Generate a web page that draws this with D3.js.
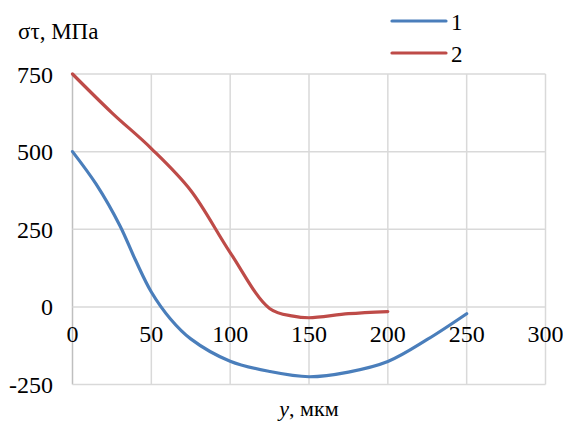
<!DOCTYPE html>
<html><head><meta charset="utf-8">
<script src="https://cdn.jsdelivr.net/npm/d3@7"></script>
<style>body{margin:0;background:#fff}</style>
</head><body><svg id="c" width="563" height="421"></svg>
<script>
const xTicks = [0, 50, 100, 150, 200, 250, 300];
const yTicks = [-250, 0, 250, 500, 750];
const seriesNames = ["1", "2"];
const s1x = [0, 15, 30, 40, 50, 62, 75, 100, 125, 150, 175, 200, 225, 250];
const s1y = [500, 395, 262, 150, 48, -38, -103, -175, -208, -225, -210, -176, -105, -22];
const s2x = [0, 25, 50, 75, 100, 125, 140, 150, 175, 200];
const s2y = [750, 625, 510, 375, 175, -5, -30, -35, -22, -15];
const colors = ["#4a7ebb", "#be4b48"];
const yTitle = "στ, МПа";
const xTitleItalic = "y";
const xTitleRest = ", мкм";
const FONT = "'Liberation Serif', Tinos, 'Times New Roman', serif";

const svg = d3.select("#c");
const x = d3.scaleLinear().domain([0, 300]).range([72.5, 545.5]);
const y = d3.scaleLinear().domain([-250, 750]).range([384.5, 74]);

function serif(sel) {
  return sel.attr("font-family", FONT).style("font-family", FONT, "important");
}

const g = svg.append("g");
g.selectAll(".vg").data(xTicks).join("line")
  .attr("x1", d => x(d)).attr("x2", d => x(d))
  .attr("y1", y(750)).attr("y2", y(-250))
  .attr("stroke", d => d === 0 ? "#bfbfbf" : "#d9d9d9").attr("stroke-width", 1.5);
g.selectAll(".hg").data(yTicks).join("line")
  .attr("x1", x(0)).attr("x2", x(300))
  .attr("y1", d => y(d)).attr("y2", d => y(d))
  .attr("stroke", "#d9d9d9").attr("stroke-width", 1.5);

serif(g.selectAll(".yl").data(yTicks).join("text"))
  .attr("x", 53).attr("y", d => y(d) + 8.5)
  .attr("text-anchor", "end").attr("font-size", 24).text(d => d);
serif(g.selectAll(".xl").data(xTicks).join("text"))
  .attr("x", d => x(d)).attr("y", y(0) + 35)
  .attr("text-anchor", "middle").attr("font-size", 24).text(d => d);

const line = d3.line().x(d => x(d[0])).y(d => y(d[1])).curve(d3.curveCatmullRom.alpha(0.5));
const data = [d3.zip(s1x, s1y), d3.zip(s2x, s2y)];
svg.selectAll(".ser").data(data).join("path")
  .attr("d", line).attr("fill", "none")
  .attr("stroke", (d, i) => colors[i]).attr("stroke-width", 3.2)
  .attr("stroke-linecap", "round").attr("stroke-linejoin", "round");

const lg = svg.selectAll(".lg").data(seriesNames).join("g")
  .attr("transform", (d, i) => `translate(0,${21 + i * 32})`);
lg.append("line").attr("x1", 392).attr("x2", 446).attr("y1", 0).attr("y2", 0)
  .attr("stroke", (d, i) => colors[i]).attr("stroke-width", 3.2).attr("stroke-linecap", "round");
serif(lg.append("text")).attr("x", 451).attr("y", 8.5).attr("font-size", 23).text(d => d);

serif(svg.append("text")).attr("x", 18).attr("y", 39).attr("font-size", 23).text(yTitle);
const xt = serif(svg.append("text")).attr("x", 309).attr("y", 416).attr("text-anchor", "middle").attr("font-size", 22);
xt.append("tspan").attr("font-style", "italic").text(xTitleItalic);
xt.append("tspan").text(xTitleRest);
</script></body></html>
